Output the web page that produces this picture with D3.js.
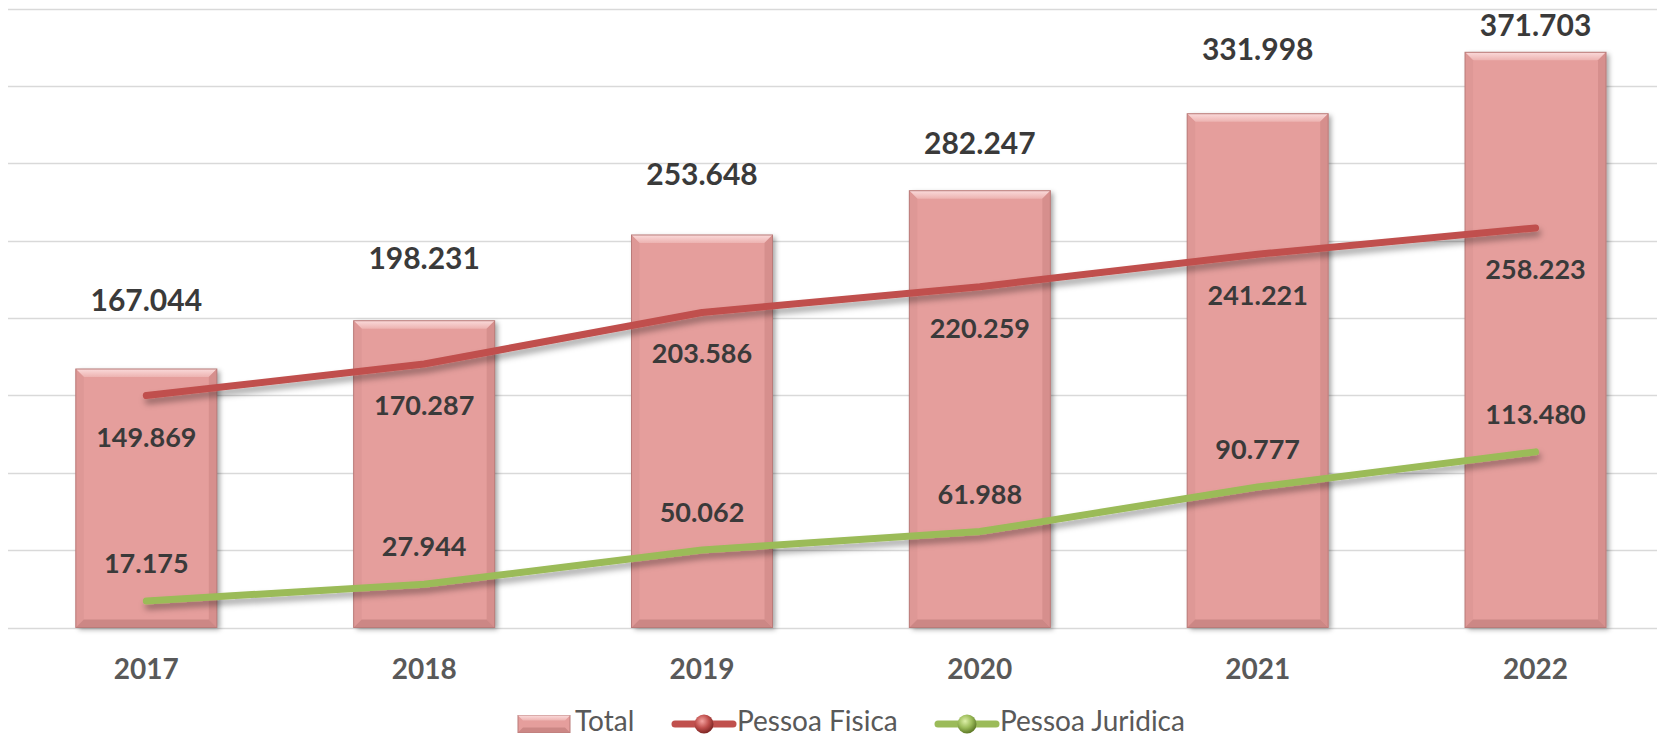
<!DOCTYPE html>
<html>
<head>
<meta charset="utf-8">
<script src="https://cdn.jsdelivr.net/npm/d3@7"></script>
<style>
  html, body { margin: 0; padding: 0; background: #fff; overflow: hidden; }
  svg { display: block; font-family: Lato, "Open Sans", sans-serif; }
</style>
</head>
<body>
<svg width="1657" height="738"></svg>
<script>
// data
const years = ["2017", "2018", "2019", "2020", "2021", "2022"];
const total = [167044, 198231, 253648, 282247, 331998, 371703];
const pessoaFisica = [149869, 170287, 203586, 220259, 241221, 258223];
const pessoaJuridica = [17175, 27944, 50062, 61988, 90777, 113480];
const gridTicks = [0, 50000, 100000, 150000, 200000, 250000, 300000, 350000, 400000];

// label nudges (labels were hand placed in the original)
const totalLabelDy = [-58, -52, -50, -37, -54, -16];

const svg = d3.select("svg");
const width = +svg.attr("width");

const fmt = d3.formatLocale({ decimal: ",", thousands: ".", grouping: [3], currency: ["", ""] }).format(",d");

const x = d3.scaleBand()
  .domain(years)
  .range([7.4, 7.4 + 6 * 277.84])
  .paddingInner(0.4925)
  .paddingOuter(0.4925 / 2);

const y = d3.scaleLinear()
  .domain([0, 400000])
  .range([627.5, 8.5]);

const defs = svg.append("defs");

const shadow = defs.append("filter").attr("id", "barShadow")
  .attr("x", "-10%").attr("y", "-10%").attr("width", "130%").attr("height", "130%");
shadow.append("feDropShadow")
  .attr("dx", 3).attr("dy", 2).attr("stdDeviation", 2.5)
  .attr("flood-color", "#000").attr("flood-opacity", 0.35);

const lineShadow = defs.append("filter").attr("id", "lineShadow")
  .attr("x", "-5%").attr("y", "-50%").attr("width", "110%").attr("height", "200%");
lineShadow.append("feDropShadow")
  .attr("dx", 2).attr("dy", 5).attr("stdDeviation", 3)
  .attr("flood-color", "#000").attr("flood-opacity", 0.35);

const topGrad = defs.append("linearGradient").attr("id", "bevelTop")
  .attr("x1", 0).attr("y1", 0).attr("x2", 0).attr("y2", 1);
topGrad.append("stop").attr("offset", "0%").attr("stop-color", "#FADADA");
topGrad.append("stop").attr("offset", "100%").attr("stop-color", "#EDB3B1");

function sphere(id, light, base, dark) {
  const g = defs.append("radialGradient").attr("id", id)
    .attr("cx", "40%").attr("cy", "35%").attr("r", "65%");
  g.append("stop").attr("offset", "0%").attr("stop-color", light);
  g.append("stop").attr("offset", "55%").attr("stop-color", base);
  g.append("stop").attr("offset", "100%").attr("stop-color", dark);
}
sphere("sphereRed", "#F4A3A0", "#C0504D", "#7E2624");
sphere("sphereGreen", "#DDF0A8", "#9BBB59", "#5E7A27");

// gridlines
svg.append("g")
  .selectAll("line")
  .data(gridTicks)
  .join("line")
  .attr("x1", 8)
  .attr("x2", width)
  .attr("y1", d => Math.round(y(d)) + 0.5)
  .attr("y2", d => Math.round(y(d)) + 0.5)
  .attr("stroke", "#D9D9D9")
  .attr("stroke-width", 1.5);

// bars with a bevel look
const bw = x.bandwidth();
const b = 8;
const bars = svg.append("g")
  .selectAll("g")
  .data(years.map((yr, i) => ({ yr, v: total[i] })))
  .join("g")
  .attr("transform", d => `translate(${x(d.yr)},${y(d.v)})`);

bars.append("rect")
  .attr("width", bw)
  .attr("height", d => y(0) - y(d.v))
  .attr("fill", "#E59E9C")
  .attr("filter", "url(#barShadow)");

bars.append("path")
  .attr("d", `M0,0H${bw}L${bw - b},${b}H${b}Z`)
  .attr("fill", "url(#bevelTop)");
bars.append("path")
  .attr("d", d => { const h = y(0) - y(d.v); return `M0,0L${b},${b}V${h - b}L0,${h}Z`; })
  .attr("fill", "#DE9896");
bars.append("path")
  .attr("d", d => { const h = y(0) - y(d.v); return `M${bw},0L${bw - b},${b}V${h - b}L${bw},${h}Z`; })
  .attr("fill", "#D68F8D");
bars.append("path")
  .attr("d", d => { const h = y(0) - y(d.v); return `M0,${h}L${b},${h - b}H${bw - b}L${bw},${h}Z`; })
  .attr("fill", "#CC8785");
bars.append("rect")
  .attr("width", bw)
  .attr("height", d => y(0) - y(d.v))
  .attr("fill", "none")
  .attr("stroke", "#B97B79")
  .attr("stroke-width", 1);

// lines
const cx = yr => x(yr) + bw / 2;
const line = d3.line()
  .x((d, i) => cx(years[i]))
  .y(d => y(d));

svg.append("path")
  .datum(pessoaFisica)
  .attr("d", line)
  .attr("fill", "none")
  .attr("stroke", "#C0504D")
  .attr("stroke-width", 7)
  .attr("stroke-linecap", "round")
  .attr("stroke-linejoin", "round")
  .attr("filter", "url(#lineShadow)");

svg.append("path")
  .datum(pessoaJuridica)
  .attr("d", line)
  .attr("fill", "none")
  .attr("stroke", "#9BBB59")
  .attr("stroke-width", 7)
  .attr("stroke-linecap", "round")
  .attr("stroke-linejoin", "round")
  .attr("filter", "url(#lineShadow)");

// data labels
svg.append("g")
  .selectAll("text")
  .data(total)
  .join("text")
  .attr("x", (d, i) => cx(years[i]))
  .attr("y", (d, i) => y(d) + totalLabelDy[i])
  .attr("text-anchor", "middle")
  .attr("font-size", 30)
  .attr("font-weight", "bold")
  .attr("fill", "#3A3A3A")
  .text(d => fmt(d));

svg.append("g")
  .selectAll("text")
  .data(pessoaFisica)
  .join("text")
  .attr("x", (d, i) => cx(years[i]))
  .attr("y", d => y(d) + 51)
  .attr("text-anchor", "middle")
  .attr("font-size", 27)
  .attr("font-weight", "bold")
  .attr("fill", "#3A3A3A")
  .text(d => fmt(d));

svg.append("g")
  .selectAll("text")
  .data(pessoaJuridica)
  .join("text")
  .attr("x", (d, i) => cx(years[i]))
  .attr("y", d => y(d) - 28)
  .attr("text-anchor", "middle")
  .attr("font-size", 27)
  .attr("font-weight", "bold")
  .attr("fill", "#3A3A3A")
  .text(d => fmt(d));

// x axis labels
const xAxis = d3.axisBottom(x).tickSize(0).tickPadding(0);
const xAxisG = svg.append("g")
  .attr("transform", `translate(0,${y(0)})`)
  .call(xAxis);
xAxisG.select(".domain").remove();
xAxisG.selectAll("text")
  .attr("dy", null)
  .attr("y", 51)
  .attr("font-family", "Lato, sans-serif")
  .attr("font-size", 28)
  .attr("font-weight", "bold")
  .attr("fill", "#595959");

// legend
const legend = svg.append("g").attr("font-size", 28).attr("fill", "#595959");
const ly = 724;
const lt = 731;

const sw = legend.append("g").attr("transform", `translate(518,${ly - 8.5})`);
sw.append("rect").attr("width", 52).attr("height", 17).attr("fill", "#E59E9C")
  .attr("stroke", "#B97B79").attr("stroke-width", 1);
sw.append("path").attr("d", "M0,0H52L47,5H5Z").attr("fill", "url(#bevelTop)");
sw.append("path").attr("d", "M0,17L5,12H47L52,17Z").attr("fill", "#CC8785");
legend.append("text").attr("x", 575).attr("y", lt).text("Total");

legend.append("line").attr("x1", 675).attr("x2", 733).attr("y1", ly).attr("y2", ly)
  .attr("stroke", "#C0504D").attr("stroke-width", 7).attr("stroke-linecap", "round");
legend.append("circle").attr("cx", 704).attr("cy", ly).attr("r", 9.5).attr("fill", "url(#sphereRed)");
legend.append("text").attr("x", 737).attr("y", lt).text("Pessoa Fisica");

legend.append("line").attr("x1", 938).attr("x2", 996).attr("y1", ly).attr("y2", ly)
  .attr("stroke", "#9BBB59").attr("stroke-width", 7).attr("stroke-linecap", "round");
legend.append("circle").attr("cx", 967).attr("cy", ly).attr("r", 9.5).attr("fill", "url(#sphereGreen)");
legend.append("text").attr("x", 1000).attr("y", lt).text("Pessoa Juridica");
</script>
</body>
</html>
